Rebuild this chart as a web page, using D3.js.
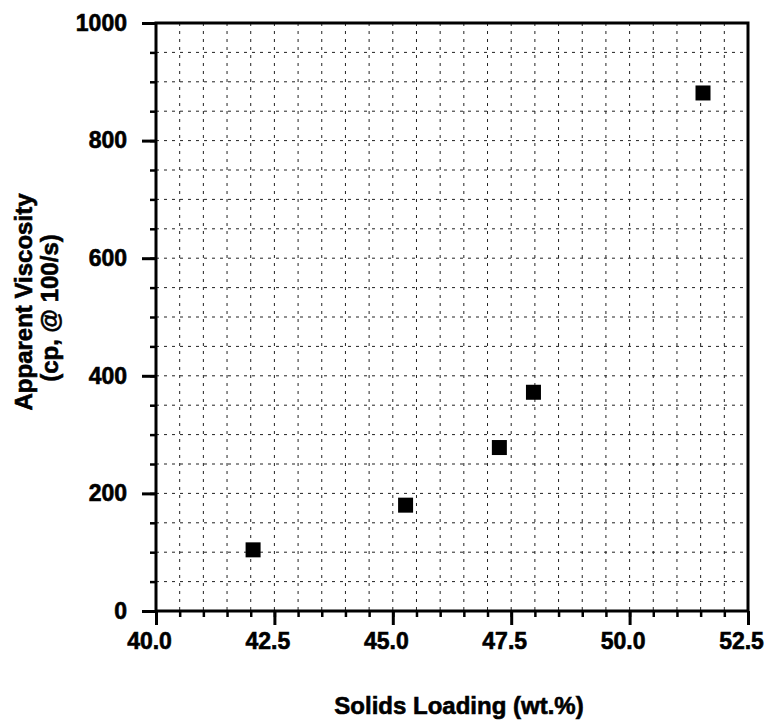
<!DOCTYPE html>
<html>
<head>
<meta charset="utf-8">
<script src="https://cdn.jsdelivr.net/npm/d3@7"></script>
<style>
  html, body { margin: 0; padding: 0; background: #fff; }
  svg { display: block; font-family: "Liberation Sans", Arial, Helvetica, sans-serif; font-weight: bold; }
  svg text { stroke: #000; stroke-width: 0.6px; }
</style>
</head>
<body>
<div id="chart"></div>
<script>
// ── Data ────────────────────────────────────────────────
const solidsLoading = [42.05, 45.27, 47.25, 47.97, 51.55];
const viscosity     = [104, 180, 278, 372, 881];

const xMajorTicks = [40.0, 42.5, 45.0, 47.5, 50.0, 52.5];
const yMajorTicks = [0, 200, 400, 600, 800, 1000];
const xMinorStep = 0.5;
const yMinorStep = 50;

const xTitle = 'Solids Loading (wt.%)';
const yTitleLines = ['Apparent Viscosity', '(cp, @ 100/s)'];

// ── Layout ──────────────────────────────────────────────
const width = 767, height = 724;
const margin = { top: 23, right: 19, bottom: 113, left: 156 };
const W = width - margin.left - margin.right;
const H = height - margin.top - margin.bottom;

const svg = d3.select('#chart').append('svg')
  .attr('width', width)
  .attr('height', height);

const g = svg.append('g')
  .attr('transform', `translate(${margin.left},${margin.top})`);

const x = d3.scaleLinear().domain([40, 52.5]).range([0, W]);
const y = d3.scaleLinear().domain([0, 1000]).range([H, 0]);

const xMinor = d3.range(40, 52.5 + 1e-9, xMinorStep);
const yMinor = d3.range(0, 1000 + 1e-9, yMinorStep);

// ── Dotted grid ─────────────────────────────────────────
g.append('g')
  .selectAll('line')
  .data(xMinor.filter(v => v > 40 && v < 52.5))
  .join('line')
  .attr('x1', d => x(d)).attr('x2', d => x(d))
  .attr('y1', 0).attr('y2', H)
  .attr('stroke', '#222')
  .attr('stroke-width', 1)
  .attr('stroke-dasharray', '3,5');

g.append('g')
  .selectAll('line')
  .data(yMinor.filter(v => v > 0 && v < 1000))
  .join('line')
  .attr('x1', 0).attr('x2', W)
  .attr('y1', d => y(d)).attr('y2', d => y(d))
  .attr('stroke', '#222')
  .attr('stroke-width', 1)
  .attr('stroke-dasharray', '3,5');

// ── Frame ───────────────────────────────────────────────
g.append('rect')
  .attr('width', W).attr('height', H)
  .attr('fill', 'none')
  .attr('stroke', '#000')
  .attr('stroke-width', 3);

// ── Axes ────────────────────────────────────────────────
const styleTicks = (sel, w) => sel
  .attr('font-family', null)
  .attr('font-size', null)
  .call(a => a.select('.domain').remove())
  .call(a => a.selectAll('.tick line').attr('stroke', '#000').attr('stroke-width', w));

// minor ticks
g.append('g')
  .attr('transform', `translate(0,${H})`)
  .call(d3.axisBottom(x).tickValues(xMinor).tickSize(6).tickFormat(''))
  .call(styleTicks, 2.5);

g.append('g')
  .call(d3.axisLeft(y).tickValues(yMinor).tickSize(6).tickFormat(''))
  .call(styleTicks, 2.5);

// major ticks + labels
g.append('g')
  .attr('transform', `translate(0,${H})`)
  .call(d3.axisBottom(x).tickValues(xMajorTicks).tickSize(14).tickPadding(8)
    .tickFormat(d3.format('.1f')))
  .call(styleTicks, 3)
  .call(a => a.selectAll('.tick text')
    .attr('fill', '#000')
    .attr('font-size', 23)
    .attr('dx', -7));

g.append('g')
  .call(d3.axisLeft(y).tickValues(yMajorTicks).tickSize(14).tickPadding(15)
    .tickFormat(d3.format('d')))
  .call(styleTicks, 3)
  .call(a => a.selectAll('.tick text')
    .attr('fill', '#000')
    .attr('font-size', 23));

// ── Points ──────────────────────────────────────────────
const pts = solidsLoading.map((v, i) => ({ x: v, y: viscosity[i] }));
const s = 15;
g.append('g')
  .selectAll('rect')
  .data(pts)
  .join('rect')
  .attr('x', d => x(d.x) - s / 2)
  .attr('y', d => y(d.y) - s / 2)
  .attr('width', s).attr('height', s)
  .attr('fill', '#000');

// ── Titles ──────────────────────────────────────────────
svg.append('text')
  .attr('x', 459).attr('y', 714)
  .attr('text-anchor', 'middle')
  .attr('font-size', 24)
  .text(xTitle);

svg.append('g')
  .attr('transform', 'translate(32,302) rotate(-90)')
  .selectAll('text')
  .data(yTitleLines)
  .join('text')
  .attr('x', (d, i) => i === 0 ? 0 : -6)
  .attr('y', (d, i) => i * 26)
  .attr('text-anchor', 'middle')
  .attr('font-size', 24)
  .text(d => d);
</script>
</body>
</html>
